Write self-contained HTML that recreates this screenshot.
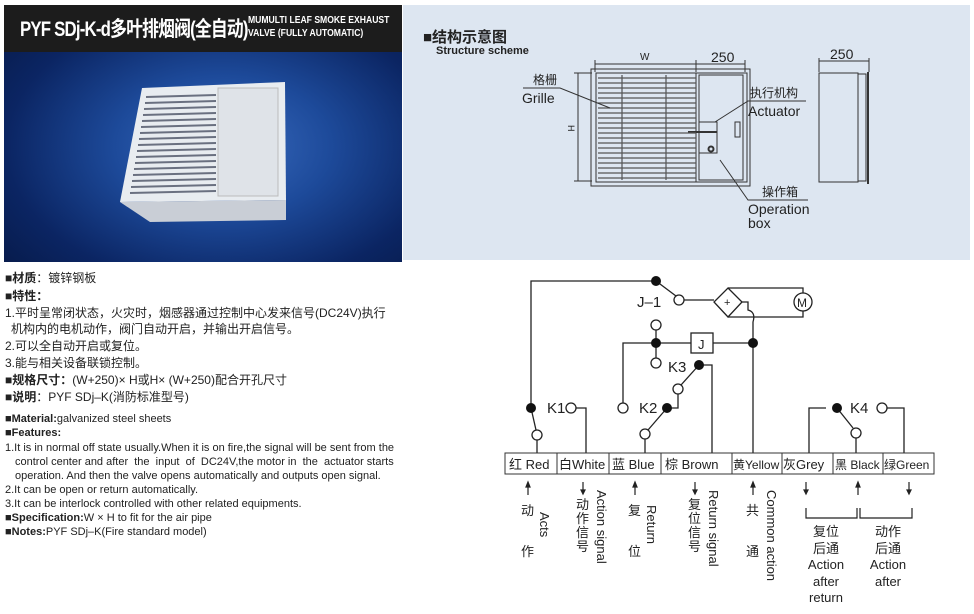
<!DOCTYPE html>
<html><head><meta charset="utf-8"><style>
body{margin:0;width:974px;height:614px;background:#fff;position:relative;overflow:hidden;font-family:"Liberation Sans","Noto Sans CJK SC",sans-serif;color:#222}
.a{position:absolute;white-space:nowrap}
.t{font-size:12px;line-height:16px}
.e{font-size:11px;line-height:14px}
.v{writing-mode:vertical-rl;font-size:13px;line-height:14px}
</style></head><body>
<div class="a" style="left:4px;top:5px;width:398px;height:257px;background:radial-gradient(ellipse at 55% 55%,#3a6cc0 0%,#1d4a9a 35%,#0b2563 70%,#061844 100%)"></div>
<div class="a" style="left:4px;top:5px;width:398px;height:47px;background:#1c1c1c"></div>
<div class="a" style="left:20px;top:13px;color:#fff;font-weight:bold;font-size:21px;letter-spacing:-1px;transform:scaleX(0.8);transform-origin:left">PYF SDj-K-d多叶排烟阀(全自动)</div>
<div class="a" style="left:248px;top:14px;color:#fff;font-weight:bold;font-size:10.5px;line-height:13px;transform:scaleX(0.82);transform-origin:left">MUMULTI LEAF SMOKE EXHAUST<br>VALVE (FULLY AUTOMATIC)</div>
<svg class="a" style="left:0;top:0" width="974" height="614">
<polygon points="142,88 285,82 286,200 120,202" fill="#e8ecf0"/>
<polygon points="120,202 286,200 286,220 150,222" fill="#c9ced6"/>
<rect x="218" y="88" width="60" height="108" fill="#dfe3e8" stroke="#bbb"/>
<g stroke="#6a7080" stroke-width="2">
<line x1="146" y1="97" x2="216" y2="95"/><line x1="145" y1="103" x2="216" y2="101"/><line x1="144" y1="109" x2="216" y2="107"/><line x1="143" y1="115" x2="216" y2="113"/><line x1="142" y1="121" x2="216" y2="119"/><line x1="141" y1="127" x2="216" y2="125"/><line x1="140" y1="133" x2="216" y2="131"/><line x1="139" y1="139" x2="216" y2="137"/><line x1="138" y1="145" x2="216" y2="143"/><line x1="137" y1="151" x2="216" y2="149"/><line x1="136" y1="157" x2="216" y2="155"/><line x1="135" y1="163" x2="216" y2="161"/><line x1="134" y1="169" x2="216" y2="167"/><line x1="133" y1="175" x2="216" y2="173"/><line x1="132" y1="181" x2="216" y2="179"/><line x1="131" y1="187" x2="216" y2="185"/><line x1="130" y1="193" x2="216" y2="191"/></g>
<rect x="403" y="5" width="567" height="255" fill="#dde6f1"/>
<g stroke="#333" fill="none" stroke-width="1">
<rect x="591" y="69" width="159" height="117"/>
<rect x="596" y="73" width="151" height="109"/>
<rect x="699" y="75" width="44" height="105"/>
<rect x="699" y="122" width="18" height="31"/>
<line x1="688" y1="132" x2="717" y2="132" stroke-width="2"/>
<circle cx="711" cy="149" r="2.5" stroke-width="2"/>
<rect x="735" y="122" width="5" height="15"/>
<line x1="622" y1="75" x2="622" y2="180"/><line x1="666" y1="75" x2="666" y2="180"/><line x1="696" y1="73" x2="696" y2="182"/>
<path d="M598 78H696M598 83H696M598 88H696M598 93H696M598 98H696M598 103H696M598 108H696M598 113H696M598 118H696M598 123H696M598 128H696M598 133H696M598 138H696M598 143H696M598 148H696M598 153H696M598 158H696M598 163H696M598 168H696M598 173H696M598 178H696" stroke="#555" stroke-width="1.2"/>
<line x1="595" y1="64" x2="745" y2="64"/><line x1="595" y1="60" x2="595" y2="72"/><line x1="696" y1="60" x2="696" y2="72"/><line x1="745" y1="60" x2="745" y2="72"/>
<line x1="578" y1="73" x2="578" y2="181"/><line x1="574" y1="73" x2="592" y2="73"/><line x1="574" y1="181" x2="592" y2="181"/>
<rect x="819" y="73" width="39" height="109"/><rect x="858" y="74" width="8" height="107"/><line x1="868" y1="72" x2="868" y2="184" stroke-width="2"/>
<line x1="819" y1="61" x2="869" y2="61"/><line x1="819" y1="58" x2="819" y2="72"/><line x1="869" y1="58" x2="869" y2="72"/>
<path d="M523 88H560L610 108"/><path d="M806 101H748L715 122"/><path d="M808 200H748L720 160"/>
</g>
<g font-family="Liberation Sans,sans-serif" fill="#222">
<text x="640" y="60" font-size="10">W</text><text x="711" y="62" font-size="14">250</text><text x="830" y="59" font-size="14">250</text>
<text x="567" y="130" font-size="9" transform="rotate(90 570 128)">H</text>
<text x="533" y="84" font-size="12" font-family="Noto Sans CJK SC">格栅</text><text x="522" y="103" font-size="14">Grille</text>
<text x="750" y="97" font-size="12" font-family="Noto Sans CJK SC">执行机构</text><text x="748" y="116" font-size="14">Actuator</text>
<text x="762" y="196" font-size="12" font-family="Noto Sans CJK SC">操作箱</text><text x="748" y="214" font-size="14">Operation</text><text x="748" y="228" font-size="14">box</text>
</g>
<g stroke="#222" fill="none" stroke-width="1.3">
<polyline points="531,408 531,281 656,281"/>
<line x1="656" y1="281" x2="676" y2="296"/>
<line x1="684" y1="300" x2="714" y2="300"/>
<polygon points="728,288 742,302 728,317 714,302"/>
<polyline points="728,288 803,288 803,317 728,317"/>
<path d="M742,302 H748 V310 Q756,312 753,322 V343"/>
<circle cx="803" cy="302" r="9" fill="#fff"/>
<rect x="691" y="333" width="22" height="20" fill="#fff"/>
<polyline points="623,403 623,343 691,343"/><line x1="713" y1="343" x2="753" y2="343"/>
<line x1="656" y1="330" x2="656" y2="358"/>
<line x1="753" y1="343" x2="753" y2="453"/>
<line x1="531" y1="408" x2="536" y2="430"/><line x1="537" y1="440" x2="537" y2="453"/>
<polyline points="576,408 586,408 586,453"/>
<line x1="667" y1="408" x2="648" y2="430"/><line x1="645" y1="439" x2="645" y2="453"/>
<polyline points="667,408 678,408 678,394"/>
<line x1="681" y1="385" x2="699" y2="365"/>
<polyline points="699,365 712,365 712,453"/>
<polyline points="809,453 809,408 826,408"/>
<line x1="837" y1="408" x2="853" y2="428"/><line x1="856" y1="438" x2="856" y2="453"/>
<polyline points="887,408 904,408 904,453"/>
</g>
<g stroke="#222" stroke-width="1.3" fill="#fff">
<circle cx="679" cy="300" r="5"/><circle cx="656" cy="325" r="5"/><circle cx="656" cy="363" r="5"/><circle cx="623" cy="408" r="5"/><circle cx="537" cy="435" r="5"/><circle cx="571" cy="408" r="5"/><circle cx="645" cy="434" r="5"/><circle cx="678" cy="389" r="5"/><circle cx="856" cy="433" r="5"/><circle cx="882" cy="408" r="5"/>
</g>
<g fill="#111"><circle cx="656" cy="281" r="5"/><circle cx="753" cy="343" r="5"/><circle cx="656" cy="343" r="5"/><circle cx="531" cy="408" r="5"/><circle cx="667" cy="408" r="5"/><circle cx="699" cy="365" r="5"/><circle cx="837" cy="408" r="5"/></g>
<g font-family="Liberation Sans,sans-serif" font-size="15" fill="#222">
<text x="637" y="307">J–1</text><text x="698" y="349" font-size="13">J</text><text x="724" y="306" font-size="11">+</text><text x="797" y="307" font-size="12">M</text>
<text x="547" y="413">K1</text><text x="639" y="413">K2</text><text x="668" y="372">K3</text><text x="850" y="413">K4</text>
</g>
<g stroke="#333" fill="#fff"><rect x="505" y="453" width="52" height="21"/><rect x="557" y="453" width="52" height="21"/><rect x="609" y="453" width="52" height="21"/><rect x="661" y="453" width="71" height="21"/><rect x="732" y="453" width="50" height="21"/><rect x="782" y="453" width="51" height="21"/><rect x="833" y="453" width="50" height="21"/><rect x="883" y="453" width="51" height="21"/></g>
<g font-family="Liberation Sans,Noto Sans CJK SC,sans-serif" font-size="13" fill="#222">
<text x="509" y="469">红 Red</text><text x="559" y="469">白White</text><text x="612" y="469">蓝 Blue</text><text x="665" y="469">棕 Brown</text><text x="733" y="469" font-size="12">黄Yellow</text><text x="783" y="469">灰Grey</text><text x="835" y="469" font-size="12">黑 Black</text><text x="884" y="469" font-size="12">绿Green</text>
</g>
<g stroke="#222" stroke-width="1.2" fill="#222">
<line x1="528" y1="486" x2="528" y2="495"/><polygon points="526,487 530,487 528,482"/>
<line x1="583" y1="482" x2="583" y2="491"/><polygon points="581,490 585,490 583,494"/>
<line x1="635" y1="486" x2="635" y2="495"/><polygon points="633,487 637,487 635,482"/>
<line x1="695" y1="482" x2="695" y2="491"/><polygon points="693,490 697,490 695,494"/>
<line x1="753" y1="486" x2="753" y2="495"/><polygon points="751,487 755,487 753,482"/>
<line x1="806" y1="482" x2="806" y2="491"/><polygon points="804,490 808,490 806,494"/>
<line x1="858" y1="486" x2="858" y2="495"/><polygon points="856,487 860,487 858,482"/>
<line x1="909" y1="482" x2="909" y2="491"/><polygon points="907,490 911,490 909,494"/>
</g>
<g stroke="#222" fill="none" stroke-width="1.2"><polyline points="806,508 806,518 857,518 857,508"/><polyline points="860,508 860,518 912,518 912,508"/></g>
</svg>
<div class="a" style="left:423px;top:26px;font-size:15px;font-weight:bold">■结构示意图</div>
<div class="a" style="left:436px;top:45px;font-size:11px;font-weight:bold">Structure scheme</div>
<div class="a t" style="left:5px;top:270px"><b>■材质</b>：镀锌钢板</div>
<div class="a t" style="left:5px;top:288px"><b>■特性：</b></div>
<div class="a t" style="left:5px;top:305px">1.平时呈常闭状态，火灾时，烟感器通过控制中心发来信号(DC24V)执行</div>
<div class="a t" style="left:11px;top:321px">机构内的电机动作，阀门自动开启，并输出开启信号。</div>
<div class="a t" style="left:5px;top:338px">2.可以全自动开启或复位。</div>
<div class="a t" style="left:5px;top:355px">3.能与相关设备联锁控制。</div>
<div class="a t" style="left:5px;top:372px"><b>■规格尺寸：</b>(W+250)× H或H× (W+250)配合开孔尺寸</div>
<div class="a t" style="left:5px;top:389px"><b>■说明</b>：PYF SDj–K(消防标准型号)</div>
<div class="a e" style="left:5px;top:412px"><b>■Material:</b>galvanized steel sheets</div>
<div class="a e" style="left:5px;top:426px"><b>■Features:</b></div>
<div class="a e" style="left:5px;top:441px">1.It is in normal off state usually.When it is on fire,the signal will be sent from the</div>
<div class="a e" style="left:15px;top:455px">control center and after &nbsp;the &nbsp;input &nbsp;of &nbsp;DC24V,the motor in &nbsp;the &nbsp;actuator starts</div>
<div class="a e" style="left:15px;top:469px">operation. And then the valve opens automatically and outputs open signal.</div>
<div class="a e" style="left:5px;top:483px">2.It can be open or return automatically.</div>
<div class="a e" style="left:5px;top:497px">3.It can be interlock controlled with other related equipments.</div>
<div class="a e" style="left:5px;top:511px"><b>■Specification:</b>W × H to fit for the air pipe</div>
<div class="a e" style="left:5px;top:525px"><b>■Notes:</b>PYF SDj–K(Fire standard model)</div>
<div class="a" style="left:521px;top:500px;font-size:13px">动</div><div class="a" style="left:521px;top:541px;font-size:13px">作</div>
<div class="a v" style="left:537px;top:512px">Acts</div>
<div class="a" style="left:576px;top:498px;font-size:13px;line-height:14px;width:14px;white-space:normal">动作信号</div>
<div class="a v" style="left:594px;top:490px">Action signal</div>
<div class="a" style="left:628px;top:500px;font-size:13px">复</div><div class="a" style="left:628px;top:541px;font-size:13px">位</div>
<div class="a v" style="left:644px;top:505px">Return</div>
<div class="a" style="left:688px;top:498px;font-size:13px;line-height:14px;width:14px;white-space:normal">复位信号</div>
<div class="a v" style="left:706px;top:490px">Return signal</div>
<div class="a" style="left:746px;top:500px;font-size:13px">共</div><div class="a" style="left:746px;top:541px;font-size:13px">通</div>
<div class="a v" style="left:764px;top:490px">Common action</div>
<div class="a" style="left:800px;top:524px;width:52px;text-align:center;font-size:13px;line-height:16.5px">复位<br>后通<br>Action<br>after<br>return</div>
<div class="a" style="left:862px;top:524px;width:52px;text-align:center;font-size:13px;line-height:16.5px">动作<br>后通<br>Action<br>after</div>
</body></html>
